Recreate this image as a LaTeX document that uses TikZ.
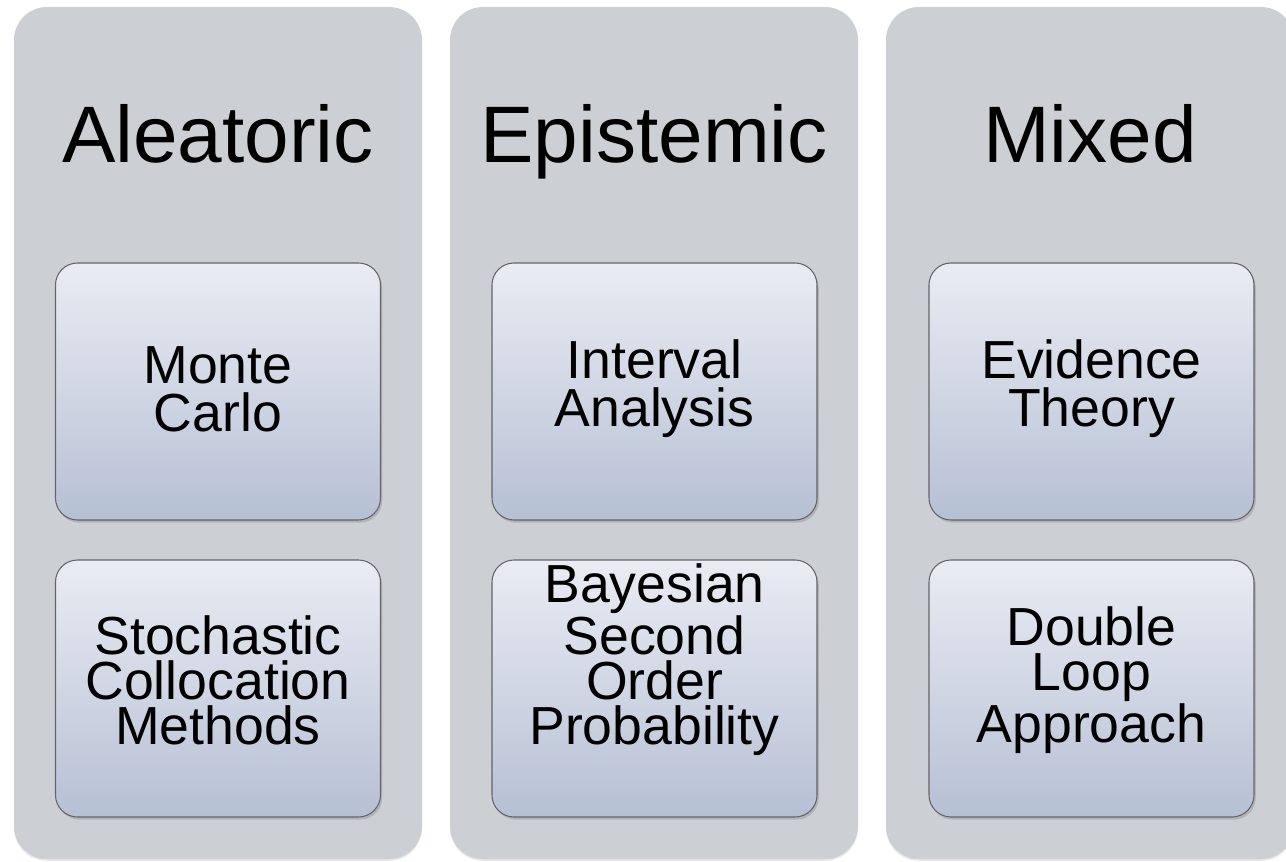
\documentclass[tikz,border=0pt]{standalone}
\usepackage{fontspec}
\setmainfont{Liberation Sans}
\usetikzlibrary{shadows}
\definecolor{colgray}{RGB}{204,207,212}
\definecolor{boxtop}{RGB}{234,236,243}
\definecolor{boxbottom}{RGB}{182,192,212}
\definecolor{boxline}{RGB}{100,100,106}
\tikzset{
  column/.style={rounded corners=0.66cm, fill=colgray, inner sep=0pt,
    minimum width=8.16cm, minimum height=17.04cm,
    drop shadow={shadow xshift=0pt, shadow yshift=-1pt, opacity=.2}},
  method/.style={rounded corners=0.44cm, draw=boxline, line width=0.6pt, inner sep=0pt,
    top color=boxtop, bottom color=boxbottom, minimum width=6.5cm, minimum height=5.14cm,
    drop shadow={shadow xshift=1pt, shadow yshift=-1.5pt, opacity=.35}},
  heading/.style={font=\fontsize{45.6}{52}\selectfont, anchor=base},
  methodtext/.style={align=center, font=\fontsize{30.5}{27.3}\selectfont},
  methodtight/.style={align=center, font=\fontsize{30.5}{25.6}\selectfont}
}
\begin{document}
\begin{tikzpicture}
  \useasboundingbox (0,0) rectangle (25.72,17.22);
  \clip (0,0) rectangle (25.72,17.22);
  % columns
  \node[column] (aleacol) at (4.36,8.56) {};
  \node[column] (epicol) at (13.08,8.56) {};
  \node[column] (mixcol) at (21.80,8.56) {};
  % headings
  \node[heading] (alea) at (4.36,13.96) {Aleatoric};
  \node[heading] (epi) at (13.08,13.96) {Epistemic};
  \node[heading] (mix) at (21.80,13.96) {Mixed};
  % method boxes
  \node[method] (mcbox) at (4.36,9.39) {};
  \node[method] (scbox) at (4.36,3.45) {};
  \node[method] (iabox) at (13.09,9.39) {};
  \node[method] (bsbox) at (13.09,3.45) {};
  \node[method] (etbox) at (21.83,9.39) {};
  \node[method] (dlbox) at (21.83,3.45) {};
  % method names
  \node[methodtext] (mc) at ([yshift=.05cm]mcbox.center) {Monte\\Carlo};
  \node[methodtight] (sc) at ([yshift=.17cm]scbox.center) {Stochastic\\Collocation\\Methods};
  \node[methodtext] (ia) at ([yshift=.05cm]iabox.center) {Interval\\Analysis};
  \node[methodtight] (bs) at ([yshift=.58cm]bsbox.center) {Bayesian\\Second\\Order\\Probability};
  \node[methodtext] (et) at ([yshift=.05cm]etbox.center) {Evidence\\Theory};
  \node[methodtight] (dl) at ([yshift=.17cm]dlbox.center) {Double\\Loop\\Approach};
\end{tikzpicture}
\end{document}
